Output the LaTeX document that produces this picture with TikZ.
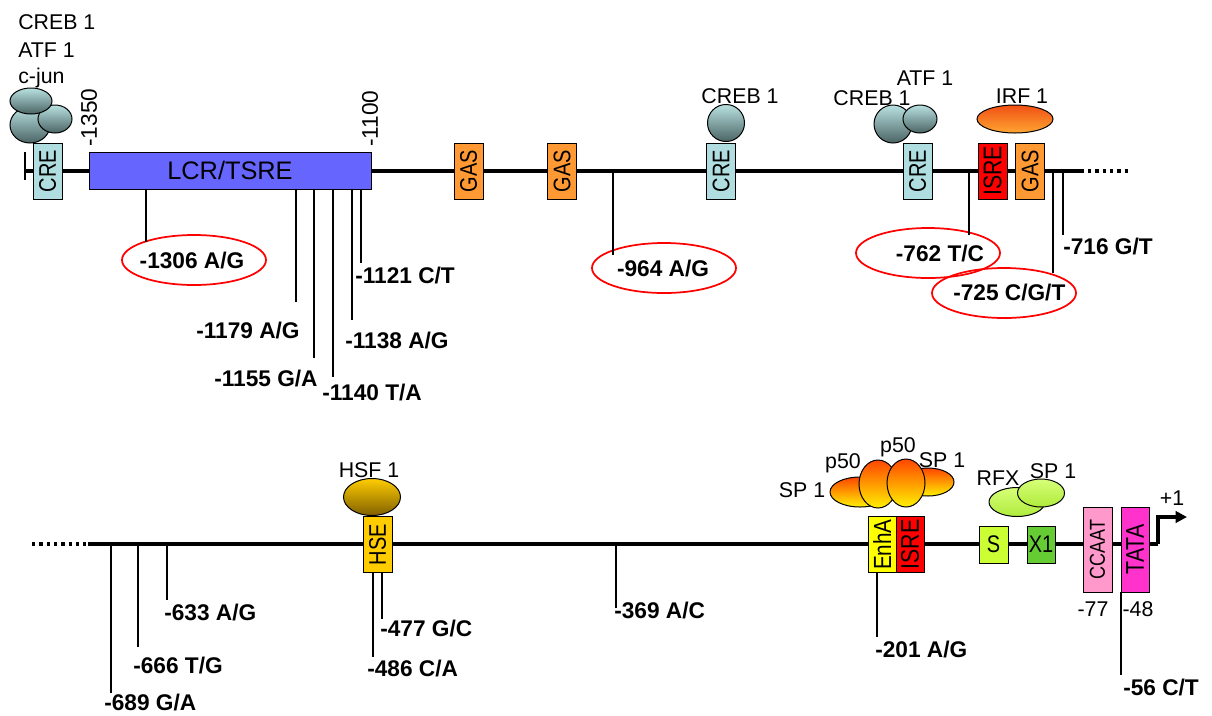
\documentclass[tikz,border=0pt]{standalone}
\usepackage{fontspec}
\setmainfont{Liberation Sans}
\usetikzlibrary{shapes.geometric,arrows.meta}
\definecolor{crec}{RGB}{176,221,224}
\definecolor{gasc}{RGB}{255,153,51}
\definecolor{isrec}{RGB}{255,0,0}
\definecolor{lcrc}{RGB}{102,102,255}
\definecolor{hsec}{RGB}{255,204,0}
\definecolor{enhc}{RGB}{255,255,0}
\definecolor{sc}{RGB}{204,255,51}
\definecolor{xc}{RGB}{102,204,51}
\definecolor{ccaatc}{RGB}{255,153,204}
\definecolor{tatac}{RGB}{255,51,204}
\definecolor{gtop}{RGB}{185,225,225}
\definecolor{gbot}{RGB}{75,100,100}
\newcommand{\bx}[1]{\scalebox{1}[1.2]{#1}}
\begin{document}
\begin{tikzpicture}[x=0.75pt,y=-0.75pt,
  dna/.style={line width=3pt},
  dots/.style={line width=3pt,dash pattern=on 2.6pt off 2.9pt},
  snp/.style={line width=0.9pt},
  lbl/.style={font=\fontsize{16}{19}\selectfont,inner sep=0},
  snplbl/.style={font=\fontsize{17}{20}\selectfont\bfseries,inner sep=0},
  vbox/.style={draw,line width=0.6pt,rotate=90,minimum width=42pt,minimum height=21.75pt,inner sep=0,font=\fontsize{15}{18}\selectfont},
  hbox/.style={draw,line width=0.6pt,minimum width=21.75pt,minimum height=27.75pt,inner sep=0,font=\fontsize{15}{18}\selectfont},
  tallbox/.style={draw,line width=0.6pt,rotate=90,minimum width=63.75pt,minimum height=21.75pt,inner sep=0,font=\fontsize{15}{18}\selectfont},
  prot/.style={ellipse,draw,line width=0.75pt,inner sep=0},
  grey/.style={prot,top color=gtop,bottom color=gbot},
  hot/.style={prot,top color={rgb,255:red,255;green,70;blue,0},bottom color={rgb,255:red,255;green,240;blue,0}},
  irf/.style={prot,top color={rgb,255:red,240;green,80;blue,20},bottom color={rgb,255:red,255;green,165;blue,50}},
  gold/.style={prot,top color={rgb,255:red,255;green,204;blue,0},bottom color={rgb,255:red,128;green,96;blue,0}},
  lime/.style={prot,top color={rgb,255:red,215;green,255;blue,120},bottom color={rgb,255:red,175;green,235;blue,60}},
  ring/.style={ellipse,draw=red,line width=1.3pt,minimum width=108pt,minimum height=37.5pt,inner sep=0}
]
\useasboundingbox (0,0) rectangle (1212,715);

% ---------------- top row ----------------
\coordinate (t0) at (25,171);
\coordinate (t1) at (1084,171);
\draw[dna] (t0) -- (t1);
\draw[dots] (1088,171) -- (1129,171);
\draw[snp] (25,152) -- (25,180);

% SNP rings (top)
\node[ring] (r1306) at (194,260) {};
\node[ring] (r964) at (664,268) {};
\node[ring] (r762) at (928,253) {};
\node[ring] (r725) at (1004,293) {};

% SNP lines (top)
\draw[snp] (146,189) -- (146,242);
\draw[snp] (296,189) -- (296,302);
\draw[snp] (314,189) -- (314,358);
\draw[snp] (333,189) -- (333,377);
\draw[snp] (352,189) -- (352,320);
\draw[snp] (361,189) -- (361,263);
\draw[snp] (613,171) -- (613,255);
\draw[snp] (969,171) -- (969,235);
\draw[snp] (1053,171) -- (1053,273);
\draw[snp] (1063,171) -- (1063,235);

% boxes (top)
\node[vbox,fill=crec] (cre1) at (47.5,171) {\bx{CRE}};
\node[draw,fill=lcrc,line width=0.6pt,minimum width=211.5pt,minimum height=27.75pt,inner sep=0,font=\fontsize{19}{22}\selectfont] (lcr) at (230,170.5) {LCR/TSRE};
\node[vbox,fill=gasc] (gas1) at (468.5,171) {\bx{GAS}};
\node[vbox,fill=gasc] (gas2) at (562,171) {\bx{GAS}};
\node[vbox,fill=crec] (cre2) at (721,171) {\bx{CRE}};
\node[vbox,fill=crec] (cre3) at (917.5,171) {\bx{CRE}};
\node[vbox,fill=isrec,font=\fontsize{16}{18}\selectfont] (isre1) at (992.5,171) {\bx{ISRE}};
\node[vbox,fill=gasc] (gas3) at (1030,171) {\bx{GAS}};

% proteins (top)
\node[grey,minimum width=30pt,minimum height=27pt] (pa) at (30,125) {};
\node[grey,minimum width=25.5pt,minimum height=21pt] (pb) at (55,119) {};
\node[grey,minimum width=31.5pt,minimum height=19.5pt] (pc) at (31,101) {};
\node[grey,minimum width=27.75pt,minimum height=27.75pt] (pd) at (726,123) {};
\node[grey,minimum width=28.5pt,minimum height=28.5pt] (pe) at (893,124) {};
\node[grey,minimum width=25.5pt,minimum height=21pt] (pf) at (920,119) {};
\node[irf,minimum width=57pt,minimum height=21pt] (pirf) at (1015,119) {};

% labels (top)
\node[lbl,anchor=base west] (l1) at (18,29) {CREB 1};
\node[lbl,anchor=base west] (l2) at (18,57) {ATF 1};
\node[lbl,anchor=base west] (l3) at (18,83) {c-jun};
\node[lbl,font=\fontsize{17}{20}\selectfont,rotate=90,anchor=west] (l1350) at (89,147) {-1350};
\node[lbl,font=\fontsize{17}{20}\selectfont,rotate=90,anchor=west] (l1100) at (370,147) {-1100};
\node[lbl,anchor=base] (l4) at (740,103) {CREB 1};
\node[lbl,anchor=base] (l5) at (925,85) {ATF 1};
\node[lbl,anchor=base] (l6) at (872,105) {CREB 1};
\node[lbl,anchor=base] (l7) at (1022,103) {IRF 1};

\node[snplbl,anchor=base] (s1306) at (192,268) {-1306 A/G};
\node[snplbl,anchor=base west] (s1121) at (355,283) {-1121 C/T};
\node[snplbl,anchor=base west] (s1179) at (196,338) {-1179 A/G};
\node[snplbl,anchor=base west] (s1138) at (345,348) {-1138 A/G};
\node[snplbl,anchor=base west] (s1155) at (214,386) {-1155 G/A};
\node[snplbl,anchor=base west] (s1140) at (322,400) {-1140 T/A};
\node[snplbl,anchor=base] (s964) at (663,276) {-964 A/G};
\node[snplbl,anchor=base] (s762) at (940,261) {-762 T/C};
\node[snplbl,anchor=base west] (s725) at (953,300) {-725 C/G/T};
\node[snplbl,anchor=base west] (s716) at (1063,254) {-716 G/T};

% ---------------- bottom row ----------------
\coordinate (b0) at (88,544);
\coordinate (b1) at (1158,544);
\coordinate (b2) at (1158,517);
\coordinate (b3) at (1187,517);
\draw[dots] (32,544) -- (86,544);
\draw[dna] (b0) -- (b1);
\draw[line width=2.6pt,-{Triangle[length=8.5pt,width=8.5pt]}] (b1) -- (b2) -- (b3);

% SNP lines (bottom)
\draw[snp] (111,544) -- (111,693);
\draw[snp] (138,544) -- (138,647);
\draw[snp] (167,544) -- (167,600);
\draw[snp] (373,573) -- (373,657);
\draw[snp] (382,573) -- (382,619);
\draw[snp] (616,544) -- (616,608);
\draw[snp] (877,573) -- (877,637);
\draw[snp] (1121,592) -- (1121,675);

% boxes (bottom)
\node[vbox,fill=hsec] (hse) at (377.5,544.5) {\bx{HSE}};
\node[vbox,fill=enhc,minimum height=21pt,font=\fontsize{15.5}{18}\selectfont] (enha) at (882,544.5) {\bx{EnhA}};
\node[vbox,fill=isrec,minimum height=21pt,font=\fontsize{16}{18}\selectfont] (isre2) at (910,544.5) {\bx{ISRE}};
\node[hbox,fill=sc] (sbox) at (993.5,544.5) {\bx{S}};
\node[hbox,fill=xc,minimum width=21pt] (x1) at (1041,544.5) {\bx{X1}};
\node[tallbox,fill=ccaatc,font=\fontsize{13.5}{17}\selectfont] (ccaat) at (1097.5,549.5) {\bx{CCAAT}};
\node[tallbox,fill=tatac,minimum height=21pt,font=\fontsize{16}{18}\selectfont] (tata) at (1135,549.5) {\bx{TATA}};

% proteins (bottom)
\node[gold,minimum width=42.75pt,minimum height=27.75pt] (hsf) at (372,497) {};
\node[hot,minimum width=45pt,minimum height=22.5pt] (sp1a) at (860,492) {};
\node[hot,minimum width=39pt,minimum height=21pt] (sp1b) at (928,482) {};
\node[hot,minimum width=28.5pt,minimum height=36pt] (p50a) at (878,484) {};
\node[hot,minimum width=28.5pt,minimum height=36pt] (p50b) at (906,483) {};
\node[lime,minimum width=42pt,minimum height=21.75pt] (rfx) at (1017,502) {};
\node[lime,minimum width=35.25pt,minimum height=21pt] (sp1c) at (1041,493) {};

% labels (bottom)
\node[lbl,anchor=base] (l8) at (369,477) {HSF 1};
\node[lbl,anchor=base] (l9) at (802,497) {SP 1};
\node[lbl,anchor=base] (l10) at (843,468) {p50};
\node[lbl,anchor=base] (l11) at (898,452) {p50};
\node[lbl,anchor=base] (l12) at (942,467) {SP 1};
\node[lbl,anchor=base] (l13) at (998,485) {RFX};
\node[lbl,anchor=base] (l14) at (1053,478) {SP 1};
\node[lbl,anchor=base] (l15) at (1172,505) {+1};
\node[lbl,anchor=base] (l16) at (1093,616) {-77};
\node[lbl,anchor=base] (l17) at (1138,616) {-48};

\node[snplbl,anchor=base west] (s689) at (104,710) {-689 G/A};
\node[snplbl,anchor=base west] (s666) at (133,673) {-666 T/G};
\node[snplbl,anchor=base west] (s633) at (164,620) {-633 A/G};
\node[snplbl,anchor=base west] (s486) at (367,676) {-486 C/A};
\node[snplbl,anchor=base west] (s477) at (380,636) {-477 G/C};
\node[snplbl,anchor=base west] (s369) at (614,618) {-369 A/C};
\node[snplbl,anchor=base west] (s201) at (875,657) {-201 A/G};
\node[snplbl,anchor=base west] (s56) at (1123,695) {-56 C/T};
\end{tikzpicture}
\end{document}
